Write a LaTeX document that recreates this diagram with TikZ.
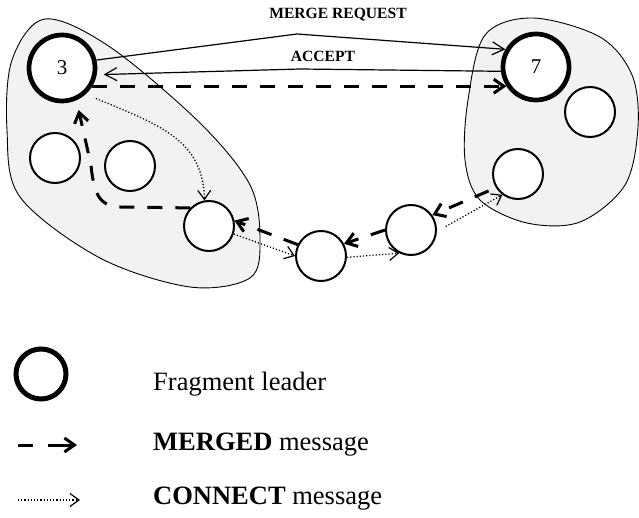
\documentclass[tikz,border=0pt]{standalone}
\usepackage{fontspec}
\setmainfont{Liberation Serif}
\usetikzlibrary{arrows.meta,calc}
\begin{document}
\begin{tikzpicture}[x=1pt,y=-1pt]
\tikzset{
 leader/.style={circle,draw,fill=white,line width=4.7pt,minimum size=66pt,inner sep=0pt,font=\fontsize{21}{24}\selectfont},
 member/.style={circle,draw,fill=white,line width=2pt,minimum size=50pt,inner sep=0pt},
 blob/.style={draw,line width=0.9pt,fill=black!5},
 merged/.style={line width=3pt,dash pattern=on 15pt off 13pt,-{Straight Barb[length=10pt,width=14pt]}},
 connect/.style={line width=1.3pt,dash pattern=on 1.2pt off 2pt,-{Straight Barb[length=9pt,width=13pt,line width=1.2pt]}},
 msg/.style={line width=1.2pt,-{Straight Barb[length=12pt,width=13pt]}},
 lbl/.style={font=\bfseries\fontsize{15.6}{18}\selectfont,anchor=base,inner sep=0pt},
 legtext/.style={font=\fontsize{26.5}{30}\selectfont,anchor=base west,inner sep=0pt},
}
\useasboundingbox (0,0) rectangle (639,518);
% fragments
\draw[blob] plot[smooth cycle,tension=0.55] coordinates {(45,19) (110,47) (200,123) (250,185) (260,240) (250,278) (190,287) (100,258) (20,197) (7,130) (12,60)};
\draw[blob] plot[smooth cycle,tension=0.55] coordinates {(485,35) (533,18) (600,37) (632,75) (638,127) (625,185) (580,222) (527,223) (480,200) (465,160) (468,100)};
% nodes
\node[leader] (n3) at (62,68) {3};
\node[leader] (n7) at (536,67) {7};
\node[member] (A) at (55,158) {};
\node[member] (B) at (130,166) {};
\node[member] (C) at (209,226) {};
\node[member] (D) at (321,256) {};
\node[member] (E) at (411,230) {};
\node[member] (F) at (518,174) {};
\node[member] (G) at (590,112) {};
% top messages
\coordinate (mrk) at (297,34);
\coordinate (acck) at (300,69);
\draw[msg] (n3.13) -- (mrk) -- (n7.150);
\draw[msg,shorten >=7pt] (n7.187) -- (acck) -- (n3.-11);
\node[lbl] (mrl) at (338,19) {MERGE REQUEST};
\node[lbl] (accl) at (323,62) {ACCEPT};
\draw[merged] (n3.-31) -- (n3.-31 -| n7.213);
% inside left fragment
\draw[connect,shorten <=11pt] (n3.-48) .. controls (160,125) and (203,140) .. (C.100);
\draw[merged,shorten >=10pt] (C.136) -- (125,207) .. controls (100,208) and (94,196) .. (91,165) -- (n3.-66);
% chain
\draw[merged] (D.154) -- (C.12);
\draw[connect] (C.-18) -- (D.180);
\draw[merged] (E.180) -- (D.28);
\draw[connect] (D.-3) -- (E.243);
\draw[merged,shorten <=8pt] (F.212) -- (E.35);
\draw[connect,shorten <=10pt] (E.-3) -- (F.233);
% legend
\node[leader,line width=5pt,minimum size=50pt] (lc) at (41,374) {};
\node[legtext] (t1) at (153,390) {Fragment leader};
\coordinate (m1) at (18,445);
\coordinate (m2) at (77,445);
\draw[merged,dash pattern=on 15pt off 15pt on 40pt off 0pt] (m1) -- (m2);
\node[legtext] (t2) at (153,450.7) {\textbf{MERGED} message};
\coordinate (c1) at (18,500);
\coordinate (c2) at (80,500);
\draw[connect] (c1) -- (c2);
\node[legtext] (t3) at (153,504) {\textbf{CONNECT} message};
\end{tikzpicture}
\end{document}
